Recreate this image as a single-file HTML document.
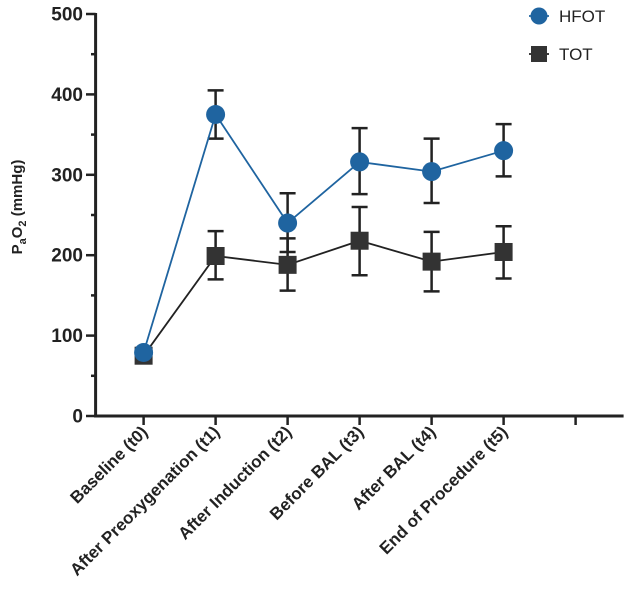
<!DOCTYPE html>
<html><head><meta charset="utf-8"><style>
body{margin:0;background:#fff;}
svg text{font-family:"Liberation Sans",Arial,sans-serif;}
</style></head><body>
<svg id="chart" width="630" height="589" viewBox="0 0 630 589" xmlns="http://www.w3.org/2000/svg">
<g id="axes"></g><g id="series"></g><g id="legend"></g>
</svg>
<script>
const categories = ["Baseline (t0)","After Preoxygenation (t1)","After Induction (t2)","Before BAL (t3)","After BAL (t4)","End of Procedure (t5)",""];
const hfotMean = [79,375,240,316,304,330];
const hfotUpper = [79,405,277,358,345,363];
const hfotLower = [79,345,204,276,265,298];
const totMean = [75,199,188,218,192,204];
const totUpper = [75,230,221,260,229,236];
const totLower = [75,170,156,175,155,171];
const yTicks = [0,100,200,300,400,500];
const yMinor = [50,150,250,350,450];

const NS="http://www.w3.org/2000/svg";
const X0=95.6, Y0=416, Y500=14;
function xs(i){return 143.6+i*72;}
function ys(v){return Y0-(v/500)*(Y0-Y500);}
function mk(tag,attrs,parent,text){const e=document.createElementNS(NS,tag);for(const k in attrs)e.setAttribute(k,attrs[k]);if(text!==undefined)e.textContent=text;parent.appendChild(e);return e;}
const axes=document.getElementById('axes'), ser=document.getElementById('series'), leg=document.getElementById('legend');

let yl=mk('line',{x1:X0,y1:Y500-1,x2:X0,y2:Y0+1.5,stroke:'#222','stroke-width':3},axes);


let xl=mk('line',{x1:X0-1.5,y1:Y0,x2:623.6,y2:Y0,stroke:'#222','stroke-width':3},axes);


yTicks.forEach(v=>{
  let t=mk('line',{x1:86,y1:ys(v),x2:X0,y2:ys(v),stroke:'#222','stroke-width':2.5},axes);
  
  
  let l=mk('text',{x:83,y:ys(v)+6.5,'text-anchor':'end','font-size':19,'font-weight':'bold',fill:'#222'},axes,String(v));
  
  
});
yMinor.forEach(v=>{
  let t=mk('line',{x1:91,y1:ys(v),x2:X0,y2:ys(v),stroke:'#222','stroke-width':2.5},axes);
  
  
});
let yt=mk('text',{x:0,y:0,transform:'translate(22,207) rotate(-90)','text-anchor':'middle','font-size':15,'font-weight':'bold',fill:'#222'},axes);


yt.innerHTML='P<tspan font-size="11" dy="4">a</tspan><tspan dy="-4">O</tspan><tspan font-size="11" dy="4">2</tspan><tspan dy="-4"> (mmHg)</tspan>';
categories.forEach((c,i)=>{
  let t=mk('line',{x1:xs(i),y1:Y0,x2:xs(i),y2:Y0+9,stroke:'#222','stroke-width':2.5},axes);
  
  
  if(c){
    let l=mk('text',{x:0,y:0,transform:`translate(${xs(i)+5},${Y0+17}) rotate(-45)`,'text-anchor':'end','font-size':17,'font-weight':'bold',fill:'#222'},axes,c);
    
    
  }
});
function series(mean,up,lo,color,shape,name){
  const g=mk('g',{},ser);
  
  
  mean.forEach((v,i)=>{
    if(up[i]!==lo[i]){
      const e=mk('path',{d:`M${xs(i)-8},${ys(up[i])}H${xs(i)+8}M${xs(i)},${ys(up[i])}V${ys(lo[i])}M${xs(i)-8},${ys(lo[i])}H${xs(i)+8}`,stroke:'#222','stroke-width':2.5,fill:'none'},g);
      
      
    }
  });
  const ln=mk('polyline',{points:mean.map((v,i)=>xs(i)+','+ys(v)).join(' '),stroke:color==='#333'?'#222':color,'stroke-width':1.8,fill:'none'},g);
  
  
  mean.forEach((v,i)=>{
    let m;
    if(shape==='c') m=mk('circle',{cx:xs(i),cy:ys(v),r:9.5,fill:color},g);
    else m=mk('rect',{x:xs(i)-9,y:ys(v)-9,width:18,height:18,fill:color},g);
    
    
  });
}
series(totMean,totUpper,totLower,'#333','s','tot');
series(hfotMean,hfotUpper,hfotLower,'#1f64a0','c','hfot');

let l1=mk('line',{x1:529,y1:16,x2:549,y2:16,stroke:'#1f64a0','stroke-width':1.8},leg);


let c1=mk('circle',{cx:539,cy:16,r:8.5,fill:'#1f64a0'},leg);


let t1=mk('text',{x:559,y:22,'font-size':17,fill:'#222'},leg,'HFOT');


let l2=mk('line',{x1:529,y1:54,x2:549,y2:54,stroke:'#222','stroke-width':1.8},leg);


let r2=mk('rect',{x:531,y:46,width:16,height:16,fill:'#333'},leg);


let t2=mk('text',{x:559,y:60,'font-size':17,fill:'#222'},leg,'TOT');


</script>
</body></html>
